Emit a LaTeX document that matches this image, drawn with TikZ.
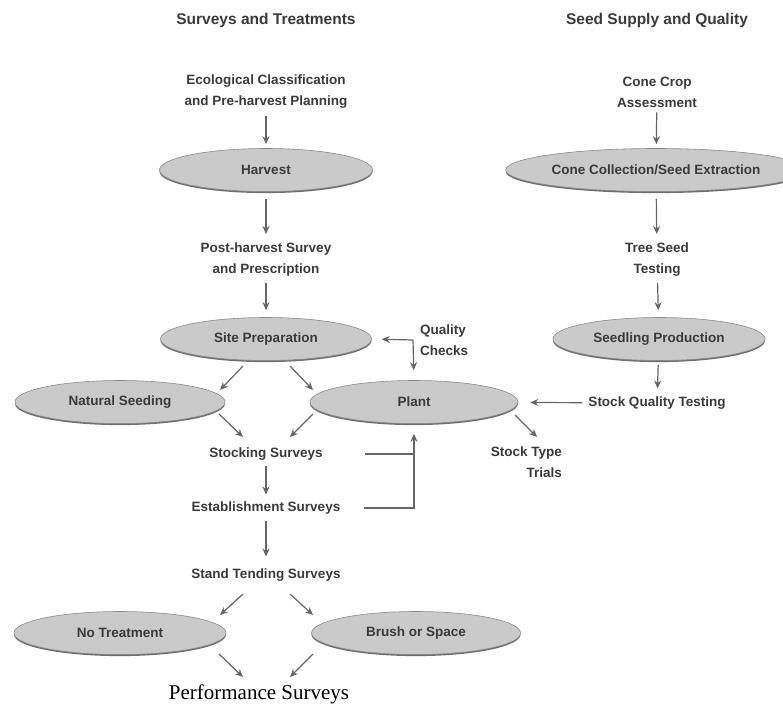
\documentclass[tikz,border=0pt]{standalone}
\usepackage{fontspec}
\setmainfont{Liberation Sans}
\newfontfamily\perffont{Liberation Serif}
\usepackage{xcolor}
\usetikzlibrary{arrows.meta, shapes.geometric, shadows}
\definecolor{inkgray}{HTML}{3A3A3A}
\definecolor{arrowgray}{HTML}{666666}
\definecolor{ovalfill}{HTML}{CACACA}
\definecolor{ovaledge}{HTML}{8A8A8A}
\definecolor{ovalshade}{HTML}{6E6E6E}

\begin{document}
\begin{tikzpicture}[
    x=1pt, y=-1pt,
    >={Stealth[length=8pt, width=7pt]},
    txt/.style={font=\fontsize{13.5}{21}\selectfont\bfseries, text=inkgray, align=center, inner sep=2pt},
    head/.style={font=\fontsize{15.5}{19}\selectfont\bfseries, text=inkgray},
    oval/.style={ellipse, draw=ovaledge, fill=ovalfill, line width=0.6pt, inner sep=0pt, minimum height=43pt,
      drop shadow={shadow xshift=0pt, shadow yshift=-1.6pt, fill=ovalshade, opacity=1}, txt},
    arr/.style={->, draw=arrowgray, line width=1.2pt},
    link/.style={draw=arrowgray, line width=1.2pt}
  ]
    \useasboundingbox (0,0) rectangle (783,707);

    % column titles
    \node[head] (survhead) at (266,20) {Surveys and Treatments};
    \node[head] (seedhead) at (657,20) {Seed Supply and Quality};

    % surveys and treatments
    \node[txt] (eco) at (266,92) {Ecological Classification\\and Pre-harvest Planning};
    \node[oval, minimum width=213pt] (harvest) at (266,170) {Harvest};
    \node[txt] (post) at (266,260) {Post-harvest Survey\\and Prescription};
    \node[oval, minimum width=211pt] (site) at (266,339) {Site Preparation};
    \node[txt, align=left, anchor=west] (qc) at (418,340) {Quality\\Checks};
    \coordinate (qcorner) at (413,340);
    \node[oval, minimum width=210pt] (natseed) at (120,402) {Natural Seeding};
    \node[oval, minimum width=208pt] (plant) at (414,402) {Plant};
    \node[txt, align=right, anchor=east] (stt) at (564,462) {Stock Type\\Trials};
    \node[txt] (stock) at (266,454) {Stocking Surveys};
    \node[txt] (estab) at (266,508) {Establishment Surveys};
    \node[txt] (tend) at (266,575) {Stand Tending Surveys};
    \node[oval, minimum width=212pt] (notreat) at (120,633) {No Treatment};
    \node[oval, minimum width=209pt] (brush) at (416,633) {Brush or Space};
    \node[font=\perffont\fontsize{21}{25}\selectfont] (perf) at (259,694) {Performance Surveys};

    % seed supply and quality
    \node[txt] (cone) at (657,92) {Cone Crop\\Assessment};
    \node[oval, minimum width=256pt] (conecol) at (656,170) {Cone Collection/Seed Extraction};
    \node[txt] (tseed) at (657,260) {Tree Seed\\Testing};
    \node[oval, minimum width=212pt] (seedling) at (659,339) {Seedling Production};
    \node[txt] (sqt) at (657,403) {Stock Quality Testing};

    % vertical flow
    \draw[arr, shorten <=5pt, shorten >=4pt] (eco) -- (harvest);
    \draw[arr, shorten <=7pt, shorten >=7pt] (harvest) -- (post);
    \draw[arr, shorten <=4pt, shorten >=7pt] (post) -- (site);
    \draw[arr, shorten <=3pt, shorten >=5pt] (stock) -- (estab);
    \draw[arr, shorten <=4pt, shorten >=10pt] (estab) -- (tend);
    \draw[arr, shorten <=3pt, shorten >=4pt] (cone) -- (conecol);
    \draw[arr, shorten <=7pt, shorten >=7pt] (conecol) -- (tseed);
    \draw[arr, shorten <=4pt, shorten >=7pt] (tseed) -- (seedling);
    \draw[arr, shorten <=4pt, shorten >=6pt] (seedling) -- (sqt);
    \draw[arr, shorten <=4pt, shorten >=12pt] (sqt) -- (plant);

    % branching
    \draw[arr] ([shift={(-23,27)}]site.center) -- ([shift={(100,-12)}]natseed.center);
    \draw[arr] ([shift={(24,27)}]site.center) -- ([shift={(-101,-12)}]plant.center);
    \draw[arr] ([shift={(99,12)}]natseed.center) -- ([shift={(-23,-17)}]stock.center);
    \draw[arr] ([shift={(-101,12)}]plant.center) -- ([shift={(24,-17)}]stock.center);
    \draw[arr] ([shift={(101,13)}]plant.center) -- ([shift={(-27,-25)}]stt.east);
    \draw[arr] ([shift={(-23,19)}]tend.center) -- ([shift={(100,-18)}]notreat.center);
    \draw[arr] ([shift={(24,19)}]tend.center) -- ([shift={(-103,-18)}]brush.center);
    \draw[arr] ([shift={(99,21)}]notreat.center) -- ([shift={(-16,-17)}]perf.center);
    \draw[arr] ([shift={(-103,21)}]brush.center) -- ([shift={(31,-17)}]perf.center);

    % quality checks and feedback
    \draw[arr, shorten >=10pt] (qcorner) -- (site.east);
    \draw[arr, shorten >=10pt] (qcorner) -- (plant.north);
    \draw[link] ([xshift=40pt]stock.east) -- (stock -| plant);
    \draw[arr] ([xshift=22pt]estab.east) -- (estab -| plant) -- ([yshift=-10pt]plant.south);
\end{tikzpicture}
\end{document}
